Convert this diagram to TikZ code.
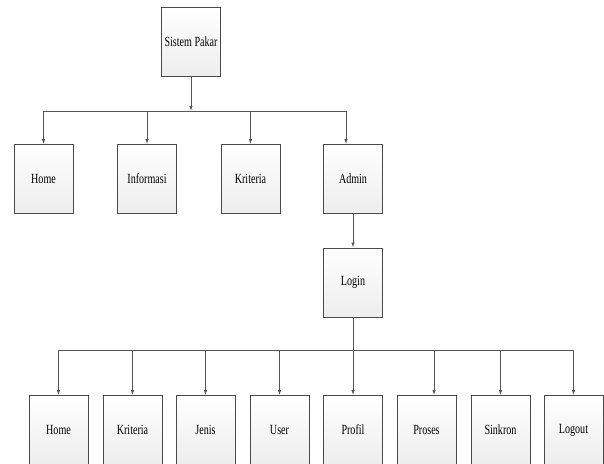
\documentclass[tikz,border=0pt]{standalone}
\usepackage{fontspec}
\setmainfont{Liberation Serif}[FakeStretch=0.72]
\usetikzlibrary{arrows.meta}

\definecolor{boxline}{HTML}{4A4A4A}
\definecolor{wireline}{HTML}{555555}

\tikzset{
    menubox/.style={draw=boxline, line width=0.9pt, top color=white, bottom color=black!7,
        minimum width=59pt, minimum height=69pt, inner sep=0pt,
        font=\fontsize{14}{16}\selectfont},
    wire/.style={draw=wireline, line width=0.9pt},
    arrowwire/.style={wire, -{Latex[length=5pt,width=3.5pt]}}
}

\begin{document}
\begin{tikzpicture}[x=1pt, y=-1pt]

    \useasboundingbox (0,0) rectangle (604,463);

    % Root
    \node[menubox] (pakar) at (191,42) {Sistem Pakar};

    % Level 1
    \node[menubox] (home) at (43.5,179) {Home};
    \node[menubox] (info) at (147,179) {Informasi};
    \node[menubox] (krit) at (250.5,179) {Kriteria};
    \node[menubox] (admin) at (353,179) {Admin};

    % Login
    \node[menubox] (login) at (353,282.5) {Login};

    % Level 2
    \foreach \name/\x/\label in {mhome/58.5/Home, mkrit/132.5/Kriteria, mjenis/205.5/Jenis,
            muser/279.5/User, mprofil/353/Profil, mproses/426.5/Proses,
            msinkron/500.5/Sinkron, mlogout/573.5/Logout}
        \node[menubox] (\name) at (\x,430) {\label};

    % Bus under root
    \coordinate (busa) at (191,111);
    \coordinate (adminin) at ([xshift=-7pt]admin.north);
    \draw[arrowwire] (pakar.south) -- (busa);
    \draw[wire] (busa -| home.north) -- (busa -| adminin);
    \foreach \n in {home,info,krit}
        \draw[arrowwire] (busa -| \n.north) -- (\n.north);
    \draw[arrowwire] (busa -| adminin) -- (adminin);

    % Admin to login
    \draw[arrowwire] (admin.south) -- (login.north);

    % Bus under login
    \coordinate (busb) at (353,350);
    \coordinate (prosesin) at ([xshift=7.5pt]mproses.north);
    \draw[wire] (login.south) -- (busb);
    \draw[wire] (busb -| mhome.north) -- (busb -| mlogout.north);
    \foreach \n in {mhome,mkrit,mjenis,muser,mprofil,msinkron,mlogout}
        \draw[arrowwire] (busb -| \n.north) -- (\n.north);
    \draw[arrowwire] (busb -| prosesin) -- (prosesin);

\end{tikzpicture}
\end{document}
